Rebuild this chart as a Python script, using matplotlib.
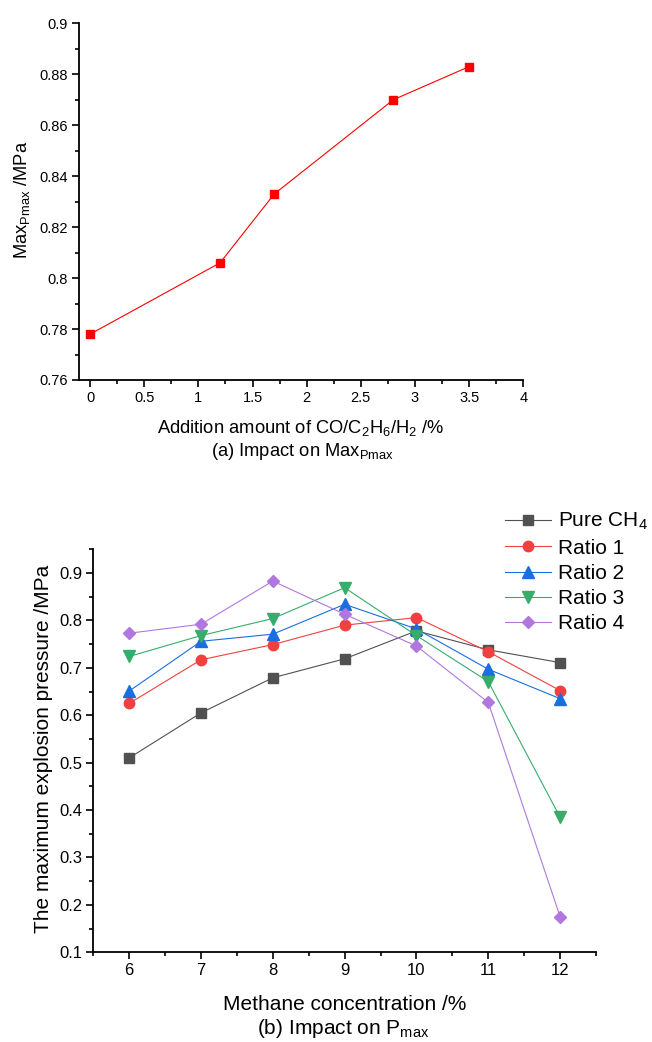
import matplotlib
matplotlib.use("Agg")
import matplotlib.pyplot as plt
from matplotlib.ticker import MultipleLocator

plt.rcParams['font.family'] = ['Liberation Sans', 'DejaVu Sans']
plt.rcParams['mathtext.fontset'] = 'custom'
plt.rcParams['mathtext.rm'] = 'Liberation Sans'
plt.rcParams['mathtext.it'] = 'Liberation Sans'
plt.rcParams['mathtext.default'] = 'regular'

# ---- data (a) ----
add_amount = [0, 1.2, 1.7, 2.8, 3.5]
max_pmax = [0.778, 0.806, 0.833, 0.870, 0.883]

# ---- data (b) ----
methane = [6, 7, 8, 9, 10, 11, 12]
pure_ch4 = [0.510, 0.605, 0.679, 0.719, 0.778, 0.738, 0.711]
ratio1 = [0.625, 0.717, 0.749, 0.790, 0.806, 0.734, 0.652]
ratio2 = [0.651, 0.756, 0.771, 0.834, 0.782, 0.697, 0.635]
ratio3 = [0.724, 0.768, 0.804, 0.869, 0.768, 0.671, 0.385]
ratio4 = [0.773, 0.792, 0.883, 0.813, 0.746, 0.627, 0.175]
series_names = ['Pure CH$_4$', 'Ratio 1', 'Ratio 2', 'Ratio 3', 'Ratio 4']
series_vals = [pure_ch4, ratio1, ratio2, ratio3, ratio4]
colors = ['#515151', '#F14040', '#1A6FDF', '#37AD6B', '#B177DE']
markers = ['s', 'o', '^', 'v', 'D']
msizes = [6.7, 7.5, 8, 8, 6.5]

W, H = 652, 1042
fig = plt.figure(figsize=(W / 100, H / 100), dpi=100)

def style(ax, fs):
    for s in ['top', 'right']:
        ax.spines[s].set_visible(False)
    for s in ['left', 'bottom']:
        ax.spines[s].set_linewidth(1.3)
    ax.tick_params(which='major', direction='out', length=5, width=1.2, labelsize=fs, pad=3)
    ax.tick_params(which='minor', direction='out', length=3, width=1.2)

def fmt(v, pos=None):
    s = ('%.2f' % v).rstrip('0').rstrip('.')
    return s

# ---- top axes ----
l, r, t, b = 79.3, 523.3, 23.3, 380
ax1 = fig.add_axes([l / W, 1 - b / H, (r - l) / W, (b - t) / H])
ax1.plot(add_amount, max_pmax, color='#FF0000', lw=0.8, marker='s', ms=6,
         mfc='#FF0000', mec='#FF0000', clip_on=False)
ax1.set_xlim(-0.1, 4.0)
ax1.set_ylim(0.76, 0.9)
ax1.xaxis.set_major_locator(MultipleLocator(0.5))
ax1.xaxis.set_minor_locator(MultipleLocator(0.25))
ax1.yaxis.set_major_locator(MultipleLocator(0.02))
ax1.yaxis.set_minor_locator(MultipleLocator(0.01))
ax1.xaxis.set_major_formatter(plt.FuncFormatter(fmt))
ax1.yaxis.set_major_formatter(plt.FuncFormatter(fmt))
style(ax1, 10.5)
fig.text(22 / W, 1 - 200 / H, 'Max$_{\\mathregular{Pmax}}$ /MPa', rotation=90,
         rotation_mode='anchor', ha='center', va='center', fontsize=13.2)
fig.text(301 / W, 1 - 428 / H, 'Addition amount of CO/C$_2$H$_6$/H$_2$ /%',
         ha='center', va='center', fontsize=13.2)
fig.text(302 / W, 1 - 452 / H, '(a) Impact on Max$_{\\mathregular{Pmax}}$',
         ha='center', va='center', fontsize=13.2)

# ---- bottom axes ----
l2, r2, t2, b2 = 93.3, 596, 549.3, 952.3
ax2 = fig.add_axes([l2 / W, 1 - b2 / H, (r2 - l2) / W, (b2 - t2) / H])
for name, vals, c, m, ms in zip(series_names, series_vals, colors, markers, msizes):
    ax2.plot(methane, vals, color=c, lw=0.8, marker=m, ms=ms, mfc=c, mec=c,
             label=name, clip_on=False)
ax2.set_xlim(5.5, 12.5)
ax2.set_ylim(0.1, 0.95)
ax2.xaxis.set_major_locator(MultipleLocator(1))
ax2.xaxis.set_minor_locator(MultipleLocator(0.5))
ax2.yaxis.set_major_locator(MultipleLocator(0.1))
ax2.yaxis.set_minor_locator(MultipleLocator(0.05))
ax2.xaxis.set_major_formatter(plt.FuncFormatter(fmt))
ax2.yaxis.set_major_formatter(plt.FuncFormatter(fmt))
style(ax2, 12)
fig.text(44 / W, 1 - 749 / H, 'The maximum explosion pressure /MPa', rotation=90,
         rotation_mode='anchor', ha='center', va='center', fontsize=15)
fig.text(345 / W, 1 - 1004 / H, 'Methane concentration /%',
         ha='center', va='center', fontsize=15)
fig.text(343 / W, 1 - 1029 / H, '(b) Impact on P$_{\\mathregular{max}}$',
         ha='center', va='center', fontsize=15)

leg = fig.legend(loc='upper left', bbox_to_anchor=(505 / W, 1 - 511 / H),
                 frameon=False, fontsize=15, handlelength=2.2, handletextpad=0.35,
                 labelspacing=0.3, borderpad=0, borderaxespad=0)

fig.savefig('out.png', dpi=100)
